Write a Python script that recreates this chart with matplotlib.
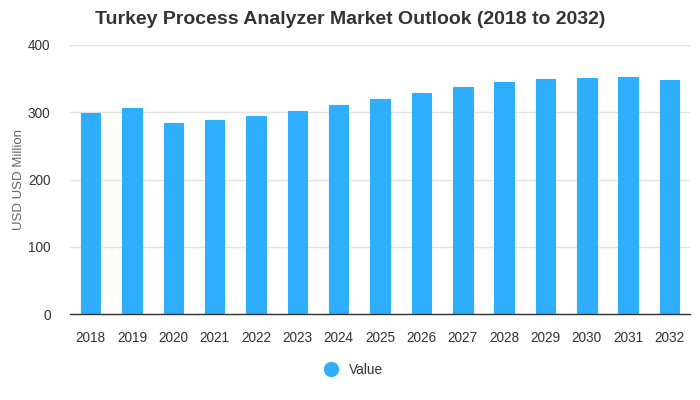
import matplotlib
matplotlib.use("Agg")
import matplotlib.pyplot as plt
from matplotlib.lines import Line2D

years = ["2018", "2019", "2020", "2021", "2022", "2023", "2024", "2025",
         "2026", "2027", "2028", "2029", "2030", "2031", "2032"]
values = [299, 306, 284, 288.5, 294.5, 302, 311, 320, 329, 338, 345, 350, 351, 352.5, 348]
yticks = [0, 100, 200, 300, 400]

plt.rcParams['font.family'] = ['Liberation Sans', 'DejaVu Sans']
color = "#2eaefd"

fig = plt.figure(figsize=(7, 4), dpi=100)
ax = fig.add_axes([0.1, 0.215, 0.886, 0.6725])
x = list(range(len(years)))
ax.bar(x, values, width=0.47, color=color, edgecolor=color, linewidth=0.8,
       joinstyle='round', zorder=3)
ax.set_xlim(-0.5, len(years) - 0.5)
ax.set_ylim(0, 400)
ax.set_yticks(yticks)
ax.set_xticks(x)
ax.set_xticklabels(years)
ax.tick_params(axis='both', length=0, labelsize=9.8, colors="#333333")
ax.tick_params(axis='y', pad=14)
ax.tick_params(axis='x', pad=12)
ax.grid(axis='y', color="#e3e3e3", linewidth=1, zorder=0)
for s in ['top', 'right', 'left']:
    ax.spines[s].set_visible(False)
ax.spines['bottom'].set_color("#333333")
ax.spines['bottom'].set_linewidth(1)
ax.spines['bottom'].set_zorder(4)
ax.set_ylabel("USD USD Million", fontsize=9.5, color="#666666", labelpad=2)

fig.text(0.5, 0.952, "Turkey Process Analyzer Market Outlook (2018 to 2032)",
         ha='center', va='center', fontsize=14, fontweight='bold', color="#333333")

handle = Line2D([0], [0], marker='o', color='none', markerfacecolor=color,
                markeredgecolor=color, markersize=10)
fig.legend([handle], ["Value"], loc='center', bbox_to_anchor=(0.5, 0.075),
           frameon=False, fontsize=9.8, handletextpad=0.3, labelcolor="#333333")

fig.savefig("out.png", dpi=100)
